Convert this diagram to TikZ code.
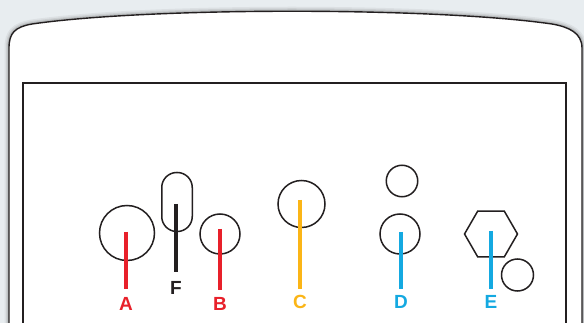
\documentclass[tikz,border=0pt]{standalone}
\usepackage{fontspec}
\setmainfont{Liberation Sans}
\usetikzlibrary{shapes.geometric}
\definecolor{bg}{RGB}{232,237,240}
\definecolor{myred}{RGB}{232,32,42}
\definecolor{myyellow}{RGB}{251,181,22}
\definecolor{myblue}{RGB}{20,169,225}
\definecolor{ink}{RGB}{35,31,32}
\tikzset{
  outline/.style={draw=ink, line width=1.5pt, fill=none, inner sep=0pt},
  ring/.style={outline, circle},
  stem/.style={line width=3.2pt},
  lab/.style={font=\bfseries\fontsize{19}{19}\selectfont, inner sep=0pt, anchor=center},
}
\begin{document}
\begin{tikzpicture}[x=1pt,y=-1pt]
\useasboundingbox (0,0) rectangle (584,323);
\fill[bg] (0,0) rectangle (584,323);
\begin{scope}
\clip (0,0) rectangle (584,323);
% soft shadow
\foreach \w/\o in {9/0.05,6/0.07,3.5/0.1}{
\draw[black, opacity=\o, line width=\w pt] (9,330) -- (9,48) .. controls (9,33) and (15,27) .. (32,24) .. controls (150,7) and (434,7) .. (552,24) .. controls (569,27) and (582,33) .. (582,48) -- (582,330);
}
% device
\draw[ink, fill=white, line width=1.4pt] (9,330) -- (9,48) .. controls (9,33) and (15,27) .. (32,24) .. controls (150,7) and (434,7) .. (552,24) .. controls (569,27) and (582,33) .. (582,48) -- (582,330);
% screen
\draw[ink, line width=1.4pt] (23,330) -- (23,83) -- (566,83) -- (566,330);
\end{scope}

% shapes
\node[ring, minimum size=55pt] (cA) at (127,233) {};
\node[outline, rectangle, rounded corners=15pt, minimum width=30.5pt, minimum height=59pt] (capF) at (177,202) {};
\node[ring, minimum size=40pt] (cB) at (220,234) {};
\node[ring, minimum size=47pt] (cC) at (301.5,204) {};
\node[ring, minimum size=31.5pt] (cDtop) at (402,181) {};
\node[ring, minimum size=40pt] (cD) at (400,234) {};
\node[outline, regular polygon, regular polygon sides=6, minimum size=53pt] (hexE) at (491,234) {};
\node[ring, minimum size=32pt] (cEsmall) at (517.5,275) {};

% labels
\node[lab, text=myred] (lA) at (126,304) {A};
\node[lab, text=ink] (lF) at (176,288) {F};
\node[lab, text=myred] (lB) at (220,304) {B};
\node[lab, text=myyellow] (lC) at (300,302) {C};
\node[lab, text=myblue] (lD) at (401,302) {D};
\node[lab, text=myblue] (lE) at (491,302) {E};

% stems
\coordinate (tA) at (126,232); \coordinate (bA) at (126,289);
\coordinate (tF) at (176,204); \coordinate (bF) at (176,272);
\coordinate (tB) at (220,229); \coordinate (bB) at (220,290);
\coordinate (tC) at (300,200); \coordinate (bC) at (300,289);
\coordinate (tD) at (401,232); \coordinate (bD) at (401,289);
\coordinate (tE) at (491,231); \coordinate (bE) at (491,289);
\draw[stem, myred] (tA) -- (bA);
\draw[stem, ink] (tF) -- (bF);
\draw[stem, myred] (tB) -- (bB);
\draw[stem, myyellow] (tC) -- (bC);
\draw[stem, myblue] (tD) -- (bD);
\draw[stem, myblue] (tE) -- (bE);
\end{tikzpicture}
\end{document}
